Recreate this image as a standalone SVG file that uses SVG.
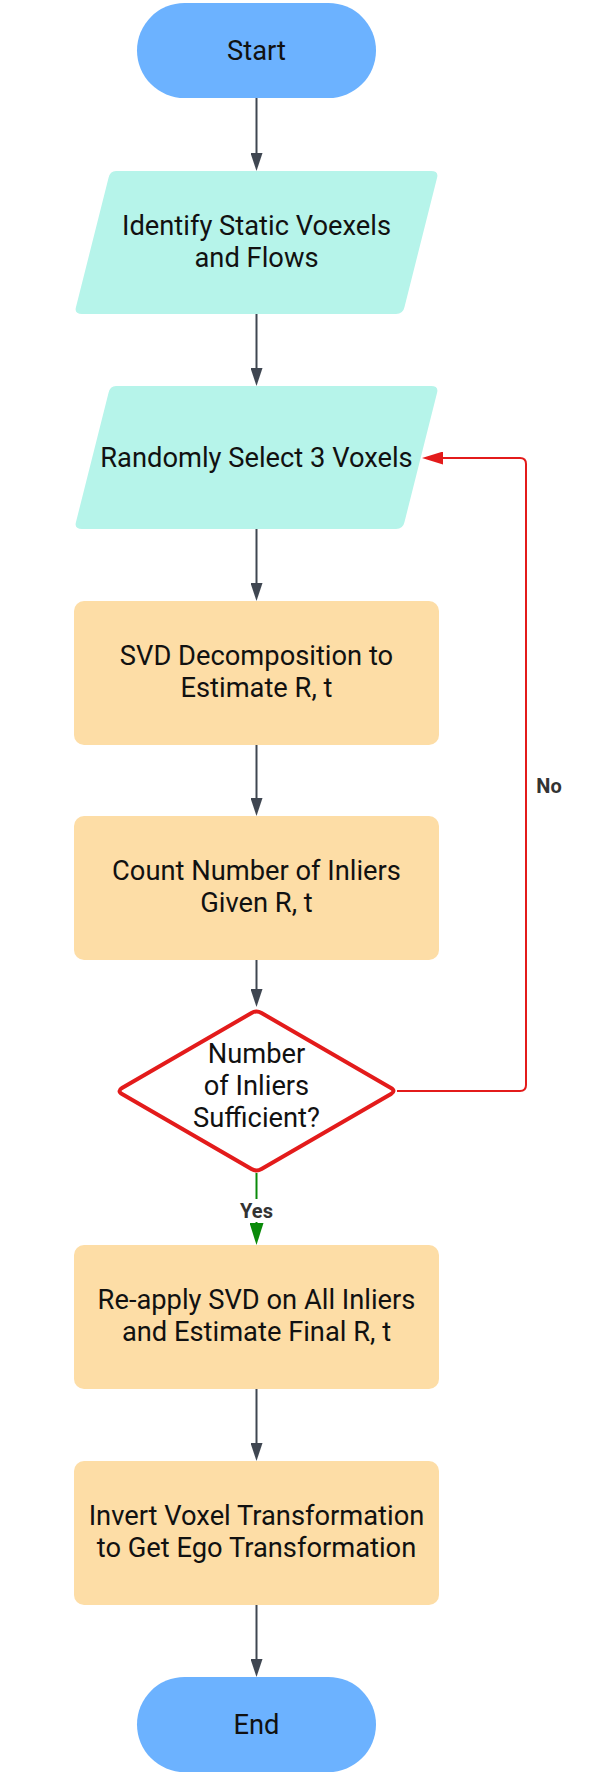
<svg xmlns="http://www.w3.org/2000/svg" width="598" height="1775" viewBox="0 0 598 1775">
  <style>
    .t { font-family: Roboto, "Liberation Sans", sans-serif; font-size: 27.3px; fill: #111111; text-anchor: middle; }
    .lbl { font-family: Roboto, "Liberation Sans", sans-serif; font-size: 20px; font-weight: bold; fill: #333333; text-anchor: middle; }
    .term { fill: #6cb2ff; }
    .io { fill: #b6f4ea; }
    .proc { fill: #fddda6; }
    .dec { fill: #ffffff; stroke: #e31b1b; stroke-width: 4; stroke-linejoin: round; }
    .edge { fill: none; stroke: #3f4651; stroke-width: 2; }
    .edge-no { fill: none; stroke: #e31b1b; stroke-width: 2; }
    .edge-yes { fill: none; stroke: #0a8a0a; stroke-width: 2; }
  </style>
  <defs>
    <marker id="arrGray" markerUnits="userSpaceOnUse" markerWidth="18" markerHeight="12" refX="8" refY="6" orient="auto">
      <path d="M0,0 L18,6 L0,12 z" fill="#3f4651"/>
    </marker>
    <marker id="arrRed" markerUnits="userSpaceOnUse" markerWidth="21" markerHeight="13" refX="11" refY="6.5" orient="auto">
      <path d="M0,0 L21,6.5 L0,13 z" fill="#e31b1b"/>
    </marker>
    <marker id="arrGreen" markerUnits="userSpaceOnUse" markerWidth="22" markerHeight="14" refX="12" refY="7" orient="auto">
      <path d="M0,0 L22,7 L0,14 z" fill="#0a8a0a"/>
    </marker>
  </defs>

  <g id="connectors">
    <path class="edge" d="M256.5,98 V161" marker-end="url(#arrGray)"/>
    <path class="edge" d="M256.5,314 V376" marker-end="url(#arrGray)"/>
    <path class="edge" d="M256.5,529 V591" marker-end="url(#arrGray)"/>
    <path class="edge" d="M256.5,745 V806" marker-end="url(#arrGray)"/>
    <path class="edge" d="M256.5,960 V997" marker-end="url(#arrGray)"/>
    <path class="edge-yes" d="M256.5,1173 V1235" marker-end="url(#arrGreen)"/>
    <path class="edge" d="M256.5,1389 V1451" marker-end="url(#arrGray)"/>
    <path class="edge" d="M256.5,1605 V1667" marker-end="url(#arrGray)"/>
    <path class="edge-no" d="M397,1091 H520 Q526,1091 526,1085 V464 Q526,458 520,458 H432" marker-end="url(#arrRed)"/>
  </g>

  <g id="node-start">
    <rect class="term" x="137" y="3" width="239" height="95" rx="47.5"/>
    <text class="t" x="256.5" y="60">Start</text>
  </g>

  <g id="node-identify">
    <path class="io" d="M116,171 H431 Q439,171 437,178 L404.5,307 Q403,314 396,314 H82 Q74,314 76,307 L108.5,178 Q110,171 116,171 Z"/>
    <text class="t" x="256.5" y="235">Identify Static Voexels</text>
    <text class="t" x="256.5" y="267">and Flows</text>
  </g>

  <g id="node-random">
    <path class="io" d="M116,386 H431 Q439,386 437,393 L404.5,522 Q403,529 396,529 H82 Q74,529 76,522 L108.5,393 Q110,386 116,386 Z"/>
    <text class="t" x="256.5" y="467">Randomly Select 3 Voxels</text>
  </g>

  <g id="node-svd">
    <rect class="proc" x="74" y="601" width="365" height="144" rx="10"/>
    <text class="t" x="256.5" y="665">SVD Decomposition to</text>
    <text class="t" x="256.5" y="697">Estimate R, t</text>
  </g>

  <g id="node-count">
    <rect class="proc" x="74" y="816" width="365" height="144" rx="10"/>
    <text class="t" x="256.5" y="880">Count Number of Inliers</text>
    <text class="t" x="256.5" y="912">Given R, t</text>
  </g>

  <g id="node-decision">
    <path class="dec" d="M251.5,1013 Q256.5,1010 261.5,1013 L391,1088 Q396,1091 391,1094 L261.5,1169 Q256.5,1172 251.5,1169 L122,1094 Q117,1091 122,1088 Z"/>
    <text class="t" x="256.5" y="1063">Number</text>
    <text class="t" x="256.5" y="1095">of Inliers</text>
    <text class="t" x="256.5" y="1127">Sufficient?</text>
  </g>

  <g id="node-reapply">
    <rect class="proc" x="74" y="1245" width="365" height="144" rx="10"/>
    <text class="t" x="256.5" y="1309">Re-apply SVD on All Inliers</text>
    <text class="t" x="256.5" y="1341">and Estimate Final R, t</text>
  </g>

  <g id="node-invert">
    <rect class="proc" x="74" y="1461" width="365" height="144" rx="10"/>
    <text class="t" x="256.5" y="1525">Invert Voxel Transformation</text>
    <text class="t" x="256.5" y="1557">to Get Ego Transformation</text>
  </g>

  <g id="node-end">
    <rect class="term" x="137" y="1677" width="239" height="95" rx="47.5"/>
    <text class="t" x="256.5" y="1734">End</text>
  </g>

  <g id="edge-labels">
    <rect x="236" y="1199" width="41" height="23" fill="#ffffff"/>
    <text class="lbl" x="256.5" y="1218">Yes</text>
    <text class="lbl" x="549" y="793">No</text>
  </g>
</svg>
